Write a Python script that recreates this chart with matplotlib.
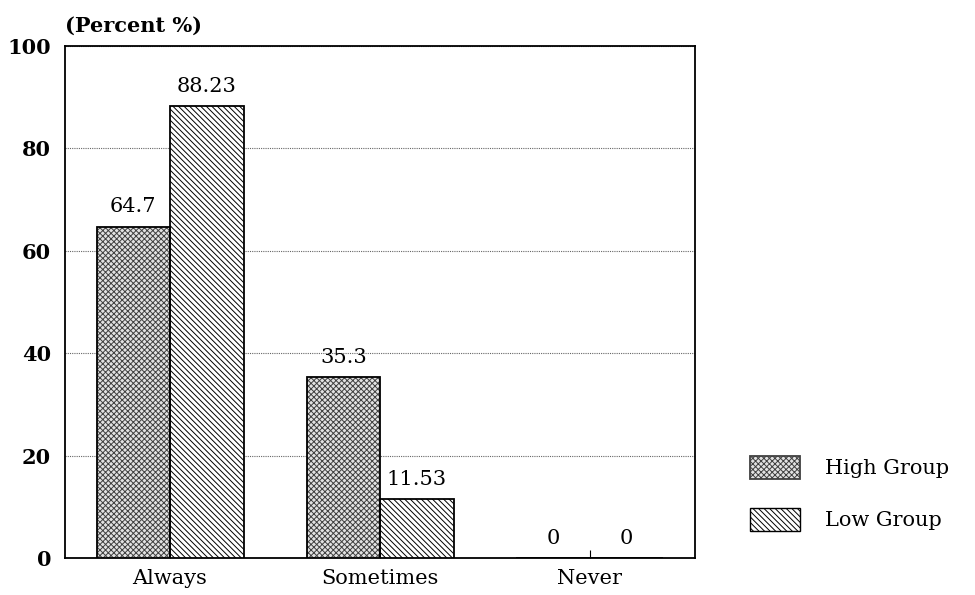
import numpy as np
import matplotlib.pyplot as plt
from matplotlib.patches import Patch

# response frequencies by group
categories = ['Always', 'Sometimes', 'Never']
high_group = [64.7, 35.3, 0]
low_group = [88.23, 11.53, 0]
series_names = ['High Group', 'Low Group']

plt.rcParams['font.family'] = ['DejaVu Serif']
plt.rcParams['hatch.linewidth'] = 0.7

fig = plt.figure(figsize=(9.75, 5.95), dpi=100)
ax = fig.add_axes([0.0667, 0.0622, 0.6461, 0.8605])

x = np.arange(len(categories))
w = 0.35
hi_hatch = 'xxxxxx'
lo_hatch = '\\\\\\\\\\\\'
hi_face, hi_ink = '#e2e2e2', '#404040'

# high group: grey crosshatch fill, then black outline on top
ax.bar(x - w/2, high_group, w, facecolor=hi_face, edgecolor=hi_ink,
       hatch=hi_hatch, linewidth=0, zorder=3)
b1 = ax.bar(x - w/2, high_group, w, fill=False, edgecolor='k',
            linewidth=1.3, zorder=4)
b2 = ax.bar(x + w/2, low_group, w, facecolor='white', edgecolor='k',
            hatch=lo_hatch, linewidth=1.3, zorder=3)

# value labels above the bars
for bars, vals in [(b1, high_group), (b2, low_group)]:
    for r, v in zip(bars, vals):
        ax.text(r.get_x() + r.get_width()/2, v + 2, '%g' % v,
                ha='center', va='bottom', fontsize=15)

ax.set_xlim(-0.5, 2.5)
ax.set_ylim(0, 100)
ax.set_yticks([0, 20, 40, 60, 80, 100])
ax.set_xticks(x)
ax.set_xticklabels(categories)
ax.tick_params(axis='x', direction='in', length=6, labelsize=15, pad=8)
ax.tick_params(axis='y', direction='out', length=0, labelsize=15, pad=10)
for lab in ax.get_yticklabels():
    lab.set_fontweight('bold')
ax.grid(axis='y', linestyle=(0, (1, 1)), color='#666666', linewidth=0.8, zorder=0)
for s in ax.spines.values():
    s.set_linewidth(1.3)

ax.text(0.0, 1.02, '(Percent %)', transform=ax.transAxes, ha='left',
        va='bottom', fontsize=15, fontweight='bold')

handles = [Patch(facecolor=hi_face, edgecolor=hi_ink, hatch=hi_hatch, label=series_names[0]),
           Patch(facecolor='white', edgecolor='k', hatch=lo_hatch, label=series_names[1])]
leg = fig.legend(handles=handles, loc='center left', bbox_to_anchor=(0.75, 0.171),
                 frameon=False, fontsize=15, handlelength=2.4, handleheight=1.3,
                 labelspacing=1.4, handletextpad=1.2)
leg.legend_handles[0].set_linewidth(1.3)

fig.savefig('out.png', dpi=100)
